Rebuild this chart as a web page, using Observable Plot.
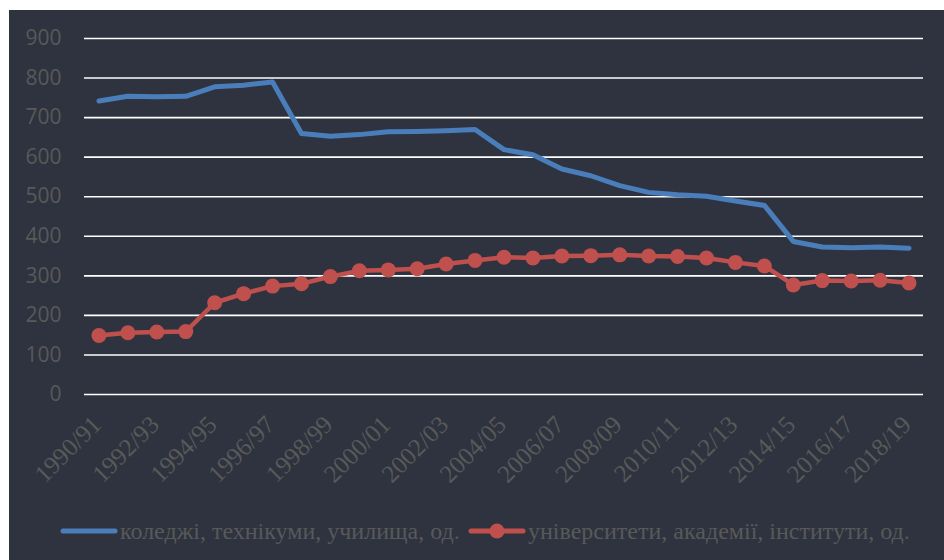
<!DOCTYPE html>
<html>
<head>
<meta charset="utf-8">
<script src="https://cdn.jsdelivr.net/npm/d3@7"></script>
<script src="https://cdn.jsdelivr.net/npm/@observablehq/plot@0.6"></script>
<style>
  html, body { margin: 0; padding: 0; background: #ffffff; }
  #frame { position: absolute; left: 9px; top: 10px; width: 935px; height: 550px; background: #2e333f; }
  #chart { position: absolute; left: 0; top: 0; }
  .legend { position: absolute; top: 499px; height: 44px; display: flex; align-items: center;
            font-family: "Liberation Serif", "Times New Roman", serif; font-size: 24px; color: #595959; white-space: nowrap; }
  .legend svg { display: block; margin-right: 2px; }
  #chart g.xlab text { font-family: "Liberation Serif", "Times New Roman", serif !important; font-size: 25px !important; }
  #chart g.ylab text { font-family: "Open Sans", sans-serif !important; font-size: 21px !important; }
</style>
</head>
<body>
<div id="frame">
  <div id="chart"></div>
  <div class="legend" style="left:51px">
    <svg width="58" height="12"><line x1="3" y1="6" x2="55" y2="6" stroke="#4a7ebb" stroke-width="5" stroke-linecap="round"/></svg>
    <span id="lab1"></span>
  </div>
  <div class="legend" style="left:459px">
    <svg width="58" height="18"><line x1="3" y1="9" x2="55" y2="9" stroke="#c0504d" stroke-width="5" stroke-linecap="round"/><circle cx="29" cy="9" r="7.5" fill="#c0504d"/></svg>
    <span id="lab2"></span>
  </div>
</div>
<script>
const years = ["1990/91","1991/92","1992/93","1993/94","1994/95","1995/96","1996/97","1997/98","1998/99","1999/00",
  "2000/01","2001/02","2002/03","2003/04","2004/05","2005/06","2006/07","2007/08","2008/09","2009/10",
  "2010/11","2011/12","2012/13","2013/14","2014/15","2015/16","2016/17","2017/18","2018/19"];
const colleges = [742,754,753,754,778,782,790,660,653,657,664,665,667,670,619,606,570,553,528,511,505,501,489,478,387,373,371,373,370];
const universities = [149,156,158,159,232,255,274,280,298,313,315,318,330,339,347,345,350,351,353,350,349,345,334,325,277,288,287,289,282];
const seriesNames = ["коледжі, технікуми, училища, од.", "університети, академії, інститути, од."];
const yTicks = [0,100,200,300,400,500,600,700,800,900];
const xTicks = years.filter((d, i) => i % 2 === 0);

document.getElementById("lab1").textContent = seriesNames[0];
document.getElementById("lab2").textContent = seriesNames[1];

const chart = Plot.plot({
  width: 935,
  height: 490,
  marginLeft: 75,
  marginRight: 21,
  marginTop: 28,
  marginBottom: 106,
  style: { background: "transparent", color: "#595959" },
  x: { type: "point", domain: years, padding: 0.5, round: false, axis: null },
  y: { domain: [0, 900], axis: null },
  marks: [
    Plot.gridY(yTicks, { stroke: "#ffffff", strokeOpacity: 1, strokeWidth: 1.6 }),
    Plot.text(yTicks, { y: d => d, frameAnchor: "left", dx: -23, textAnchor: "end", lineAnchor: "middle",
      fontSize: 21, fontFamily: "Open Sans", fill: "#595959" }),
    Plot.text(xTicks, { x: d => d, frameAnchor: "bottom", dy: 26, dx: -2, rotate: -45, textAnchor: "end", lineAnchor: "middle",
      fontSize: 25, fontFamily: "Liberation Serif", fill: "#595959" }),
    Plot.line(years, { x: d => d, y: (d, i) => colleges[i], stroke: "#4a7ebb", strokeWidth: 5 }),
    Plot.line(years, { x: d => d, y: (d, i) => universities[i], stroke: "#c0504d", strokeWidth: 4.5 }),
    Plot.dot(years, { x: d => d, y: (d, i) => universities[i], r: 7.5, fill: "#c0504d", stroke: "none" })
  ]
});
const texts = chart.querySelectorAll('g[aria-label="text"]');
if (texts[0]) texts[0].classList.add("ylab");
if (texts[1]) texts[1].classList.add("xlab");
document.getElementById("chart").appendChild(chart);
</script>
</body>
</html>
